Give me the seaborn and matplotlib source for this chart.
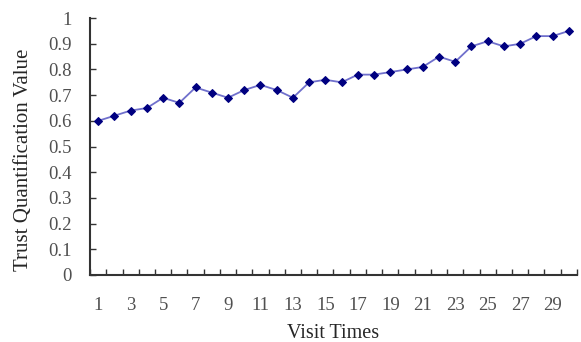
import numpy as np
import pandas as pd
import matplotlib
matplotlib.use("Agg")
import matplotlib.pyplot as plt
import seaborn as sns

visits = list(range(1, 31))
trust = [0.60, 0.62, 0.64, 0.65, 0.69, 0.67, 0.73, 0.71, 0.69, 0.72,
         0.74, 0.72, 0.69, 0.75, 0.76, 0.75, 0.78, 0.78, 0.79, 0.80,
         0.81, 0.85, 0.83, 0.89, 0.91, 0.89, 0.90, 0.93, 0.93, 0.95]
x_labels = [1, 3, 5, 7, 9, 11, 13, 15, 17, 19, 21, 23, 25, 27, 29]
y_ticks = [0, 0.1, 0.2, 0.3, 0.4, 0.5, 0.6, 0.7, 0.8, 0.9, 1.0]
y_labels = ["0", "0.1", "0.2", "0.3", "0.4", "0.5", "0.6", "0.7", "0.8", "0.9", "1"]

df = pd.DataFrame({"visit": visits, "trust": trust})

sns.set_style("ticks")
plt.rcParams['font.family'] = ['Liberation Serif', 'DejaVu Serif']

fig = plt.figure(figsize=(5.81, 3.42), dpi=100)
ax = fig.add_axes([0.155, 0.196, 0.838, 0.751])

sns.lineplot(data=df, x="visit", y="trust", ax=ax, color="#7070cc", lw=1.3,
             marker="D", markersize=4.5, markerfacecolor="#000080",
             markeredgecolor="#000080", zorder=3)

ax.set_xlim(0.5, 30.5)
ax.set_ylim(0, 1)
ax.set_xticks(x_labels)
ax.set_xticklabels([str(v) for v in x_labels])
ax.set_xticks(np.arange(0.5, 31, 1), minor=True)
ax.tick_params(axis="x", which="major", length=0, pad=16, labelsize=13.5, labelcolor="#505050")
ax.tick_params(axis="x", which="minor", direction="in", length=4, width=1, color="#333333")
ax.set_yticks(y_ticks)
ax.set_yticklabels(y_labels)
ax.tick_params(axis="y", direction="in", length=4, width=1, color="#333333",
               pad=13, labelsize=13.5, labelcolor="#505050")

sns.despine(ax=ax, top=True, right=True)
for s in ["left", "bottom"]:
    ax.spines[s].set_color("#333333")
    ax.spines[s].set_linewidth(1.5)

ax.set_xlabel("Visit Times", fontsize=14.5, labelpad=7)
ax.set_ylabel("Trust Quantification Value", fontsize=15)
ax.yaxis.set_label_coords(-0.118, 0.45)

fig.savefig("out.png", dpi=100)
